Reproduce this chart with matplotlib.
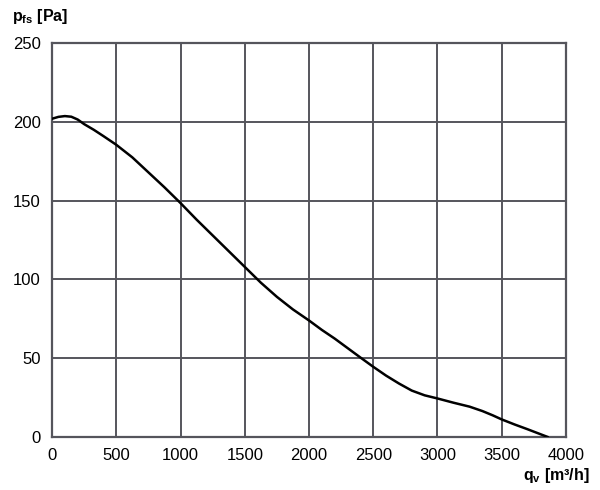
import matplotlib
matplotlib.use("Agg")
import matplotlib.pyplot as plt

# fan curve
flow = [0, 50, 100, 150, 200, 250, 325, 400, 500, 625, 750, 875, 1000,
        1125, 1250, 1375, 1500, 1625, 1750, 1875, 2000, 2100, 2200, 2300,
        2400, 2500, 2600, 2700, 2800, 2900, 3000, 3125, 3250, 3350, 3430,
        3500, 3600, 3700, 3780, 3860]
pressure = [202, 203.2, 203.7, 203.3, 201.5, 198.6, 195, 191, 185.5, 177.5,
            168, 158.5, 148.5, 138, 128, 118, 108, 98, 89, 81, 74, 68, 62.5,
            56.5, 50.5, 44.6, 39, 34, 29.5, 26.5, 24.5, 21.8, 19.3, 16.5,
            13.8, 11.2, 8, 5, 2.5, 0]

x_ticks = [0, 500, 1000, 1500, 2000, 2500, 3000, 3500, 4000]
y_ticks = [0, 50, 100, 150, 200, 250]

plt.rcParams['font.family'] = ['Liberation Sans', 'DejaVu Sans']
plt.rcParams['mathtext.fontset'] = 'custom'
plt.rcParams['mathtext.rm'] = 'Liberation Sans'
plt.rcParams['mathtext.bf'] = 'Liberation Sans:bold'

GRID = '#55555c'

fig = plt.figure(figsize=(6, 4.9), dpi=100)
ax = fig.add_axes([0.0867, 0.108, 0.8566, 0.804])

ax.plot(flow, pressure, color='black', lw=1.8, zorder=3,
        solid_joinstyle='round', solid_capstyle='round')

ax.set_xlim(0, 4000)
ax.set_ylim(0, 250)
ax.set_xticks(x_ticks)
ax.set_yticks(y_ticks)
ax.grid(True, color=GRID, lw=1.4)
for s in ax.spines.values():
    s.set_color(GRID)
    s.set_linewidth(1.6)
ax.tick_params(length=0, labelsize=12, pad=8)

fig.text(0.02, 0.966, r'$\mathbf{p}_{\mathbf{fs}}$ [Pa]', fontsize=11.5,
         fontweight='bold', va='center', ha='left')
fig.text(0.982, 0.03, r'$\mathbf{q}_{\mathbf{v}}$ [m³/h]', fontsize=11.5,
         fontweight='bold', va='center', ha='right')

fig.savefig('out.png', dpi=100)
